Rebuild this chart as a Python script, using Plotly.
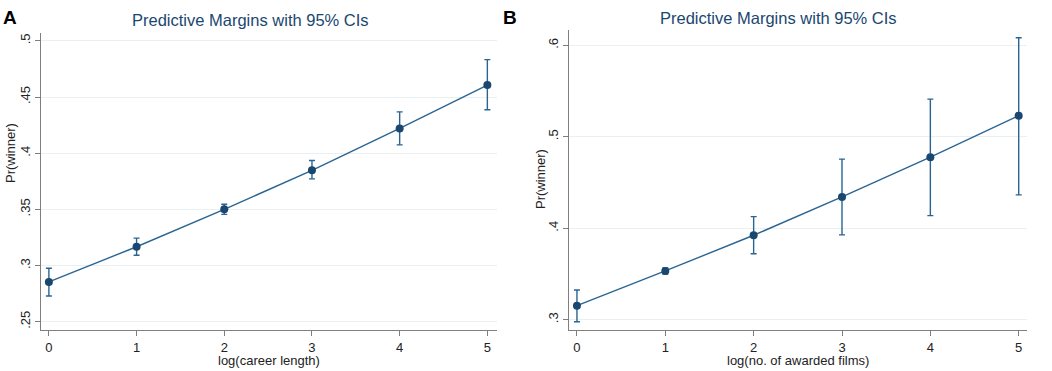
import plotly.graph_objects as go

# ---- data ----
x_vals = [0, 1, 2, 3, 4, 5]

a_margin = [0.2854, 0.3167, 0.3500, 0.3848, 0.4220, 0.4607]
a_lower = [0.2729, 0.3092, 0.3455, 0.3771, 0.4074, 0.4387]
a_upper = [0.2976, 0.3244, 0.3545, 0.3935, 0.4368, 0.4833]

b_margin = [0.3153, 0.3533, 0.3923, 0.4342, 0.4777, 0.5230]
b_lower = [0.2978, 0.3500, 0.3720, 0.3927, 0.4138, 0.4364]
b_upper = [0.3325, 0.3565, 0.4127, 0.4755, 0.5411, 0.6083]

a_yticks = [0.25, 0.30, 0.35, 0.40, 0.45, 0.50]
a_yticktext = [".25", ".3", ".35", ".4", ".45", ".5"]
b_yticks = [0.3, 0.4, 0.5, 0.6]
b_yticktext = [".3", ".4", ".5", ".6"]

title_text = "Predictive Margins with 95% CIs"
a_xtitle = "log(career length)"
b_xtitle = "log(no. of awarded films)"
y_title = "Pr(winner)"

# ---- style ----
FONT = "Liberation Sans, Arial, sans-serif"
NAVY = "#1a476f"
LINE = "#2a6592"
GRID = "#e8f0f2"
AXIS = "#7f7f7f"
W, H = 1052, 371


def px_x(p):
    return p / W


def px_y(p):
    return 1 - p / H


fig = go.Figure()


def add_panel(margin, lower, upper, xa, ya):
    fig.add_trace(go.Scatter(
        x=x_vals, y=margin, mode="lines+markers",
        xaxis=xa, yaxis=ya,
        line=dict(color=LINE, width=1.4),
        marker=dict(color=NAVY, size=8),
        error_y=dict(type="data", symmetric=False,
                     array=[u - m for u, m in zip(upper, margin)],
                     arrayminus=[m - l for m, l in zip(margin, lower)],
                     color=LINE, thickness=1.4, width=3),
        showlegend=False, hoverinfo="skip",
    ))


add_panel(a_margin, a_lower, a_upper, "x", "y")
add_panel(b_margin, b_lower, b_upper, "x2", "y2")

axis_common = dict(
    showline=True, linecolor=AXIS, linewidth=1.2,
    ticks="outside", ticklen=5, tickcolor=AXIS, tickwidth=1,
    tickfont=dict(family=FONT, size=13, color="#222222"),
    zeroline=False, mirror=False,
)

fig.update_layout(
    width=W, height=H,
    margin=dict(l=0, r=0, t=0, b=0),
    paper_bgcolor="white", plot_bgcolor="white",
    xaxis=dict(domain=[px_x(41), px_x(497)], range=[-0.09, 5.11],
               tickvals=x_vals, showgrid=False, anchor="y", **axis_common),
    yaxis=dict(domain=[px_y(330), px_y(33)], range=[0.2426, 0.507],
               tickvals=a_yticks, ticktext=a_yticktext, tickangle=-90,
               showgrid=True, gridcolor=GRID, gridwidth=1, anchor="x",
               **axis_common),
    xaxis2=dict(domain=[px_x(569), px_x(1027)], range=[-0.09, 5.094],
                tickvals=x_vals, showgrid=False, anchor="y2", **axis_common),
    yaxis2=dict(domain=[px_y(330), px_y(30)], range=[0.2887, 0.6167],
                tickvals=b_yticks, ticktext=b_yticktext, tickangle=-90,
                showgrid=True, gridcolor=GRID, gridwidth=1, anchor="x2",
                **axis_common),
)

ann = []
# panel letters
ann.append(dict(text="<b>A</b>", x=px_x(1), y=px_y(18), xanchor="left", yanchor="middle",
                font=dict(family=FONT, size=19, color="black")))
ann.append(dict(text="<b>B</b>", x=px_x(501), y=px_y(18), xanchor="left", yanchor="middle",
                font=dict(family=FONT, size=19, color="black")))
# titles
ann.append(dict(text=title_text, x=px_x(250), y=px_y(20), xanchor="center", yanchor="middle",
                font=dict(family=FONT, size=16.5, color=NAVY)))
ann.append(dict(text=title_text, x=px_x(778), y=px_y(18), xanchor="center", yanchor="middle",
                font=dict(family=FONT, size=16.5, color=NAVY)))
# x titles
ann.append(dict(text=a_xtitle, x=px_x(269), y=px_y(360), xanchor="center", yanchor="middle",
                font=dict(family=FONT, size=13, color="#222222")))
ann.append(dict(text=b_xtitle, x=px_x(798), y=px_y(360), xanchor="center", yanchor="middle",
                font=dict(family=FONT, size=13, color="#222222")))
# y titles
ann.append(dict(text=y_title, x=px_x(10), y=px_y(153), xanchor="center", yanchor="middle",
                textangle=-90, font=dict(family=FONT, size=13, color="#222222")))
ann.append(dict(text=y_title, x=px_x(540), y=px_y(179), xanchor="center", yanchor="middle",
                textangle=-90, font=dict(family=FONT, size=13, color="#222222")))

for a in ann:
    a.update(xref="paper", yref="paper", showarrow=False)
fig.update_layout(annotations=ann)

fig.write_html("out.html", config={"displayModeBar": False},
               post_script="document.body.style.margin='0';document.body.style.overflow='hidden';")
